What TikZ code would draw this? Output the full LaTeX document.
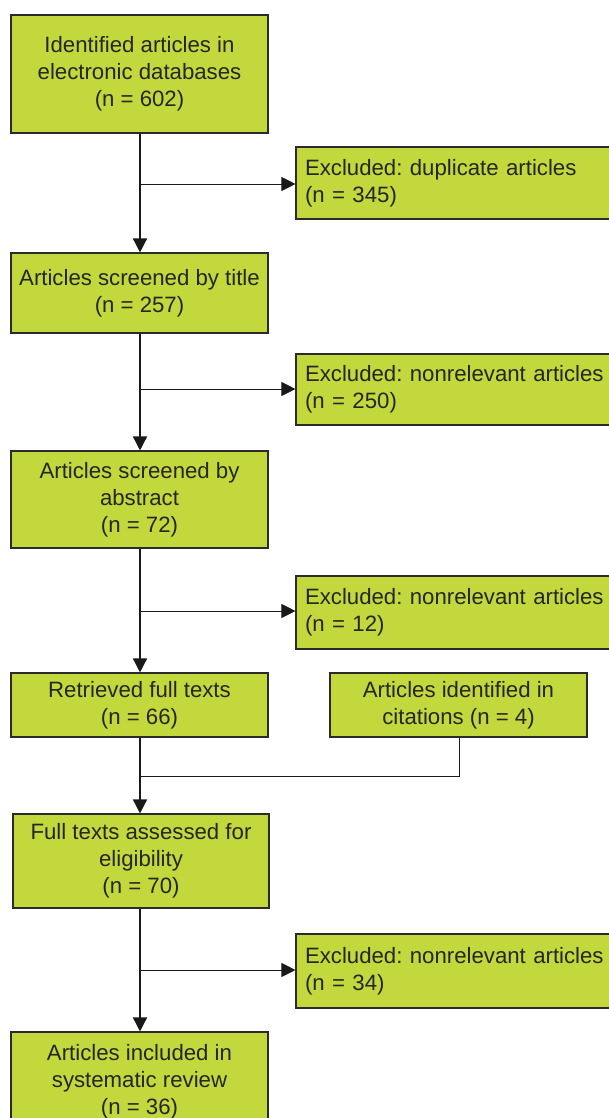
\documentclass[tikz,border=0pt]{standalone}
\usepackage{fontspec}
\setmainfont{Liberation Sans}
\usetikzlibrary{arrows.meta}
\definecolor{boxgreen}{HTML}{C2D83C}
\definecolor{edge}{HTML}{2B2B2B}
\tikzset{
  box/.style={draw=edge, line width=1.1pt, fill=boxgreen, font=\fontsize{22.2}{27}\selectfont\frenchspacing, align=center, inner sep=0pt, text=black!85},
  mainbox/.style={box, minimum width=257pt},
  exbox/.style={box, minimum width=330pt, text width=312pt, align=left, minimum height=72pt},
  flow/.style={line width=1.5pt, draw=black!90, -{Triangle[length=14pt,width=14pt]}},
  branch/.style={line width=0.9pt, draw=black!90, -{Triangle[length=14pt,width=14pt]}},
  joinline/.style={line width=0.9pt, draw=black!90}
}
\begin{document}
\begin{tikzpicture}[x=1pt,y=-1pt]
\useasboundingbox (0,0) rectangle (609,1118);
\fill[white] (0,0) rectangle (609,1118);
\node[mainbox, minimum height=118pt] (b1) at (139.5,74) {Identified articles in\\electronic databases\\(n = 602)};
\node[exbox] (e1) at (461,183) {Excluded: duplicate articles\\(n = 345)};
\node[mainbox, minimum height=80pt] (b2) at (139.5,293) {Articles screened by title\\(n = 257)};
\node[exbox, minimum height=71pt] (e2) at (461,389.5) {Excluded: nonrelevant articles\\(n = 250)};
\node[mainbox, minimum height=97pt] (b3) at (139.5,499.5) {Articles screened by\\abstract\\(n = 72)};
\node[exbox, minimum height=73pt] (e3) at (461,612.5) {Excluded: nonrelevant articles\\(n = 12)};
\node[mainbox, minimum height=64pt] (b4) at (139.5,705) {Retrieved full texts\\(n = 66)};
\node[mainbox, minimum height=64pt] (c1) at (458.5,705) {Articles identified in\\citations (n = 4)};
\node[mainbox, minimum height=94pt, minimum width=256pt] (b5) at (141,861) {Full texts assessed for\\eligibility\\(n = 70)};
\node[exbox, minimum height=74pt] (e4) at (461,971) {Excluded: nonrelevant articles\\(n = 34)};
\node[mainbox, minimum height=100pt] (b6) at (139.5,1082) {Articles included in\\systematic review\\(n = 36)};

\coordinate (j1) at (140,184);
\coordinate (j2) at (140,389);
\coordinate (j3) at (140,611);
\coordinate (j4) at (140,776);
\coordinate (j5) at (140,970);
\coordinate (cj) at (459,776);

\draw[flow] (b1.south -| j1) -- (b2.north -| j1);
\draw[branch] (j1) -- (e1.west |- j1);
\draw[flow] (b2.south -| j2) -- (b3.north -| j2);
\draw[branch] (j2) -- (e2.west |- j2);
\draw[flow] (b3.south -| j3) -- (b4.north -| j3);
\draw[branch] (j3) -- (e3.west |- j3);
\draw[flow] (b4.south -| j4) -- (b5.north -| j4);
\draw[joinline] (c1.south -| cj) -- (cj) -- (j4);
\draw[flow] (b5.south -| j5) -- (b6.north -| j5);
\draw[branch] (j5) -- (e4.west |- j5);
\end{tikzpicture}
\end{document}
